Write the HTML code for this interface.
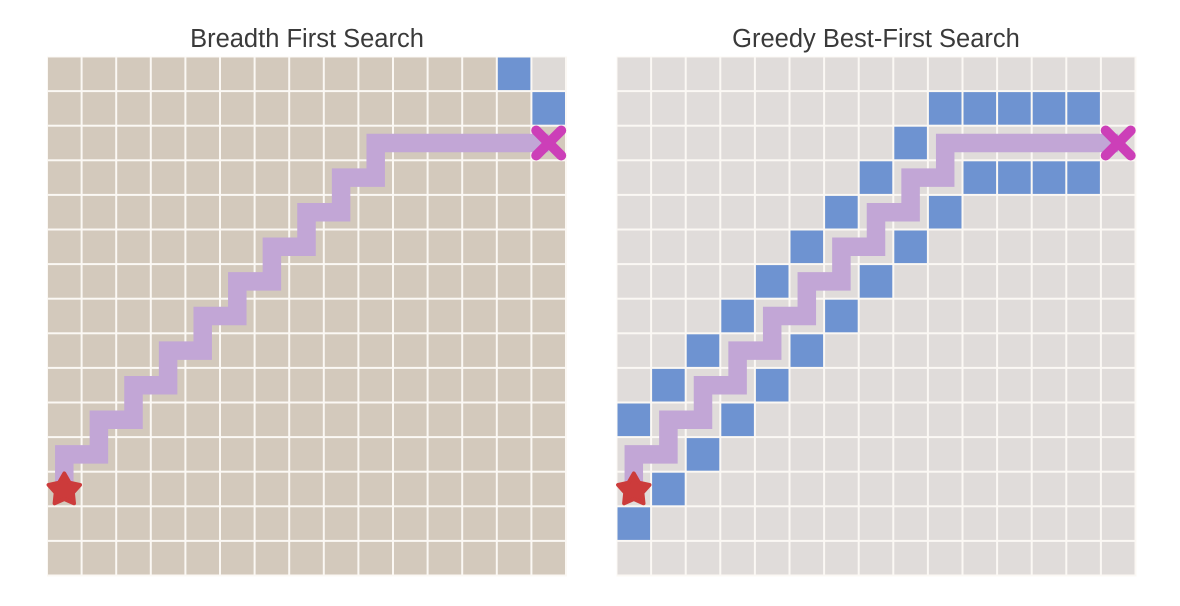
<!DOCTYPE html>
<html><head><meta charset="utf-8"><style>
html,body{margin:0;padding:0;background:#fff;width:1180px;height:606px;overflow:hidden}
svg{display:block}
text{font-family:"Liberation Sans",sans-serif}
</style></head><body>
<svg id="c" width="1180" height="606">
<text x="307" y="47" text-anchor="middle" font-size="25.5" fill="#3a3a3a">Breadth First Search</text>
<text x="876" y="47" text-anchor="middle" font-size="25.5" fill="#3a3a3a">Greedy Best-First Search</text>
</svg>
<script>
const gridSize = 15;
const pathCells = [[0,12],[0,11],[1,11],[1,10],[2,10],[2,9],[3,9],[3,8],[4,8],[4,7],[5,7],[5,6],[6,6],[6,5],[7,5],[7,4],[8,4],[8,3],[9,3],[9,2],[14,2]];
const startCell = [0,12];
const goalCell = [14,2];
const bfsFrontier = [[13,0],[14,1]];
const bfsUnvisited = [[14,0]];
const gbfsFrontier = [[9,1],[10,1],[11,1],[12,1],[13,1],[8,2],[7,3],[10,3],[11,3],[12,3],[13,3],[6,4],[9,4],[5,5],[8,5],[4,6],[7,6],[3,7],[6,7],[2,8],[5,8],[1,9],[4,9],[0,10],[3,10],[2,11],[1,12],[0,13]];

const NS = 'http://www.w3.org/2000/svg';
const svg = document.getElementById('c');
const pitch = 34.6, gap = 2, top0 = 57.5;
function sx(ox, col){ return ox + col*pitch; }
function sy(row){ return top0 + row*pitch; }
function mk(tag, attrs){ const e=document.createElementNS(NS,tag); for(const k in attrs) e.setAttribute(k,attrs[k]); svg.appendChild(e); return e; }

function panel(ox, base, frontier, unvisited, prefix){
  const g = mk('rect',{x:ox-1,y:top0-1,width:gridSize*pitch+1,height:gridSize*pitch+1,fill:'#fbf8f4'});
  
  
  const key = (c,r)=>c+','+r;
  const fset = new Set(frontier.map(p=>key(p[0],p[1])));
  const uset = new Set(unvisited.map(p=>key(p[0],p[1])));
  for(let r=0;r<gridSize;r++) for(let c=0;c<gridSize;c++){
    let fill = base;
    if(fset.has(key(c,r))) fill = '#6e93d1';
    else if(uset.has(key(c,r))) fill = '#dedad7';
    const e = mk('rect',{x:sx(ox,c),y:sy(r),width:pitch-gap,height:pitch-gap,fill:fill});
    
    
  }
  const h = (pitch-gap)/2;
  const pts = pathCells.map(p=>(sx(ox,p[0])+h)+','+(sy(p[1])+h)).join(' ');
  const pl = mk('polyline',{points:pts,fill:'none',stroke:'#c2a6d6',"stroke-width":18.5,"stroke-linejoin":'miter',"stroke-linecap":'butt'});
  
  
  const cx = sx(ox,startCell[0])+h, cy = sy(startCell[1])+h+1;
  let sp=[];
  for(let i=0;i<10;i++){ const a=-Math.PI/2+i*Math.PI/5; const rr = i%2?9:16.5; sp.push((cx+rr*Math.cos(a)).toFixed(1)+','+(cy+rr*Math.sin(a)).toFixed(1)); }
  const st = mk('polygon',{points:sp.join(' '),fill:'#cc3b3b',stroke:'#cc3b3b',"stroke-width":4,"stroke-linejoin":'round'});
  
  
  const gx = sx(ox,goalCell[0])+h, gy = sy(goalCell[1])+h;
  const d = 12.5;
  const x1 = mk('path',{d:`M${gx-d},${gy-d}L${gx+d},${gy+d}M${gx+d},${gy-d}L${gx-d},${gy+d}`,stroke:'#cc3fb8',"stroke-width":10,"stroke-linecap":'round',fill:'none'});
  
  
}
panel(48, '#d3c9bc', bfsFrontier, bfsUnvisited, 'bfs');
panel(617.5, '#e0dcda', gbfsFrontier, [], 'gbfs');
</script>
</body></html>
